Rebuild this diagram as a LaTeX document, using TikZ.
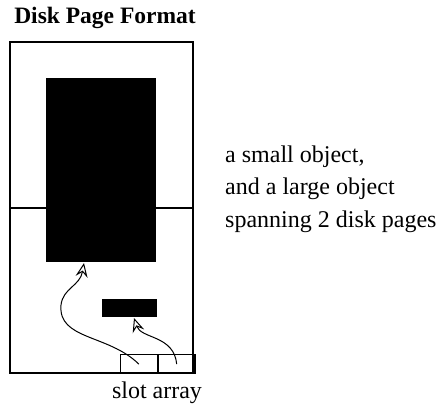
\documentclass[tikz,border=0pt]{standalone}
\usepackage{fontspec}
\setmainfont{Liberation Serif}
\usetikzlibrary{arrows.meta}

\tikzset{
  blob/.style={fill=black,draw=none,inner sep=0pt,anchor=north west},
  slotbox/.style={draw,line width=1.3pt,inner sep=0pt,minimum width=36.5pt,minimum height=19pt,anchor=north west},
  ref/.style={line width=1pt,-{Stealth[open,length=14pt,width=12pt,inset=5pt]}},
  lbl/.style={font=\fontsize{24}{32.5}\selectfont,inner sep=0pt}
}

\begin{document}
\begin{tikzpicture}[x=1pt,y=-1pt]
\useasboundingbox (0,0) rectangle (438,411);
\node[lbl,font=\fontsize{23.5}{30.5}\selectfont\bfseries,anchor=base] (title) at (105,24) {Disk Page Format};
% two disk pages
\draw[line width=1.8pt] (10,42) rectangle (193,373);
\draw[line width=1.8pt] (10,208)--(193,208);
% objects
\node[blob,minimum width=110pt,minimum height=184pt] (large) at (46,78) {};
\node[blob,minimum width=55pt,minimum height=18pt] (small) at (102,299) {};
% slot array
\node[slotbox] (slot1) at (120,354) {};
\node[slotbox,anchor=west] (slot2) at (slot1.east) {};
\coordinate (tip1) at (84,263);
\coordinate (tip2) at (134,318);
\draw[ref] (slot1.center) .. controls (108,334) and (58,340) .. (61,305)
  .. controls (63,288) and (80,286) .. (tip1);
\draw[ref] (slot2.center) .. controls (174,335) and (141,339) .. (tip2);
\node[lbl,anchor=north west,align=left] (caption) at (225,145.6) {a small object,\\and a large object\\spanning 2 disk pages};
\node[lbl,anchor=base] (slotlbl) at (157,398) {slot array};
\end{tikzpicture}
\end{document}
